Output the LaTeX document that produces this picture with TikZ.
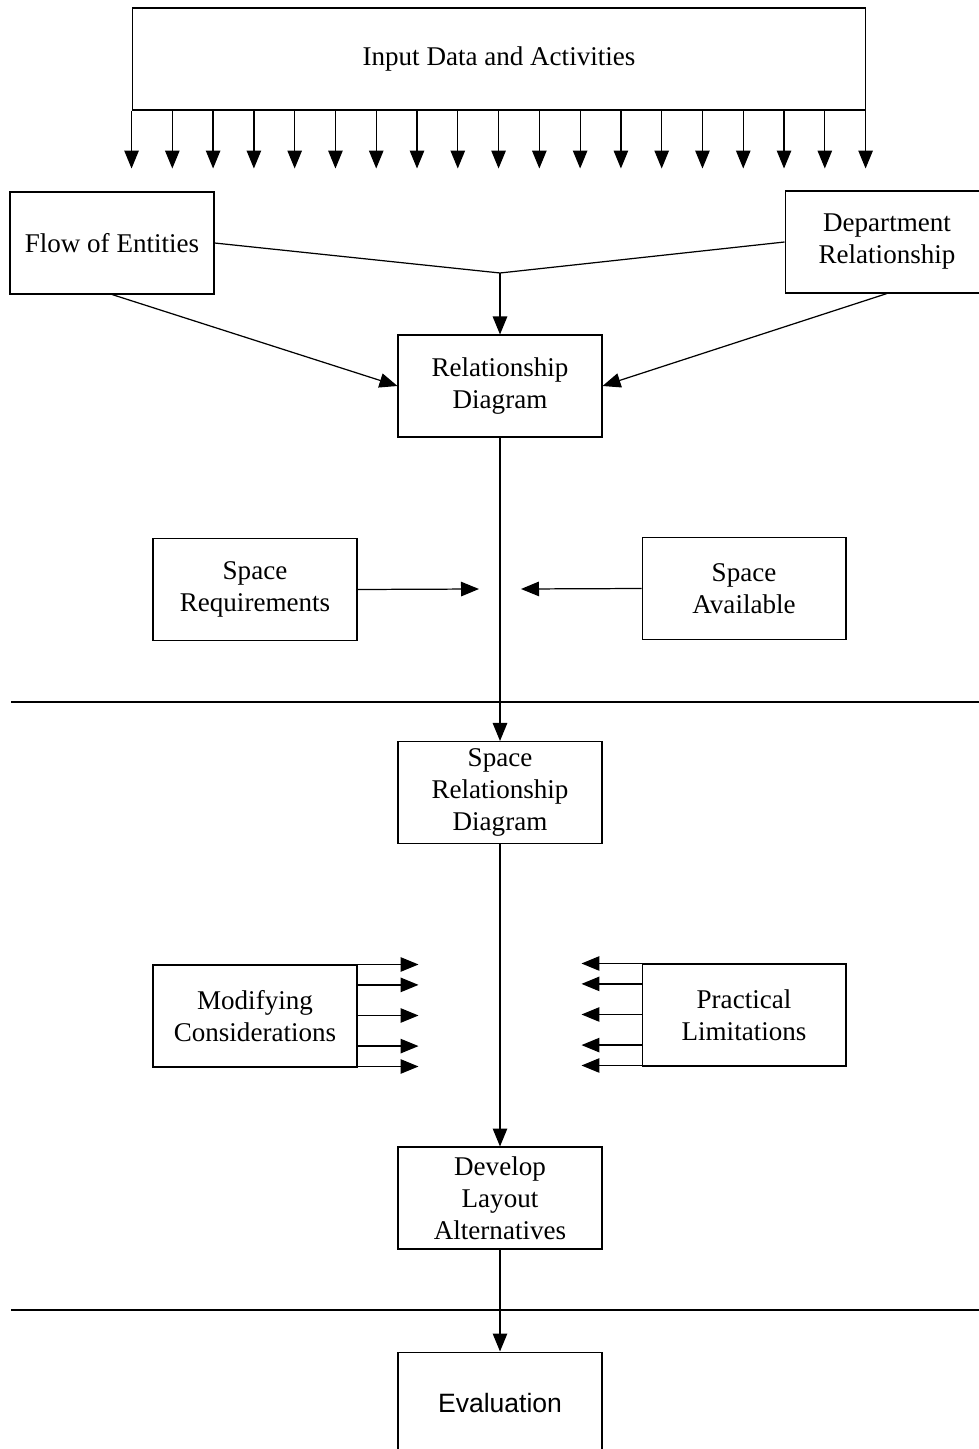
\documentclass[tikz,border=0pt]{standalone}
\usepackage{fontspec}
\setmainfont{Liberation Serif}
\newfontfamily\evalfont{Liberation Sans}
\usetikzlibrary{arrows.meta}

\tikzset{
	block/.style={draw, line width=0.6pt, minimum width=4.08cm, minimum height=2.04cm, inner sep=0pt, align=center, font=\fontsize{15.4}{18.2}\selectfont},
	arr/.style={line width=0.7pt, -{Triangle[length=0.36cm,width=0.29cm]}},
	link/.style={line width=0.7pt},
}

\begin{document}
\begin{tikzpicture}[x=0.02cm, y=-0.02cm]
	
	\useasboundingbox (0,0) rectangle (979,1449);
	
	\node[block, minimum width=14.68cm] (input) at (499,59) {Input Data and Activities};
	\foreach \i in {0,...,18}
		\draw[arr] (input.south west) ++(\i*40.78,0) -- ++(0,58);
	
	\node[block] (flow) at (112,243) {Flow of Entities};
	\node[block] (dept) at (887,242) {Department\\Relationship};
	\node[block] (reldiag) at (500,386) {Relationship\\Diagram};
	
	\coordinate (join) at (500,273);
	\draw[link] (flow.east) -- (join) -- (dept.west);
	\draw[arr] (join) -- (reldiag.north);
	\draw[arr] (flow.south) -- (reldiag.west);
	\draw[arr] (dept.south) -- (reldiag.east);
	
	\node[block] (spacereq) at (255,589.5) {Space\\Requirements};
	\node[block] (spaceav) at (744,588.5) {Space\\Available};
	\coordinate (reqtip) at (479,589);
	\coordinate (avtip) at (521,589);
	\draw[arr] (spacereq.east) -- (reqtip);
	\draw[arr] (spaceav.west) -- (avtip);
	
	\node[block] (spacerel) at (500,792.5) {Space\\Relationship\\Diagram};
	\draw[arr] (reldiag.south) -- (spacerel.north);
	
	\coordinate (sepAl) at (11,702);
	\coordinate (sepAr) at (979,702);
	\draw[link] (sepAl) -- (sepAr);
	
	\node[block] (modif) at (255,1016) {Modifying\\Considerations};
	\node[block] (pract) at (744,1015) {Practical\\Limitations};
	\foreach \f in {0,0.2,0.5,0.8,1}{
		\draw[arr] (modif.north east) ++(0,\f*102) -- ++(61,0);
		\draw[arr] (pract.north west) ++(0,\f*102) -- ++(-60,0);
	}
	
	\node[block] (develop) at (500,1198) {Develop\\Layout\\Alternatives};
	\draw[arr] (spacerel.south) -- (develop.north);
	
	\coordinate (sepBl) at (11,1310);
	\coordinate (sepBr) at (979,1310);
	\draw[link] (sepBl) -- (sepBr);
	
	\node[block, font=\evalfont\fontsize{15.1}{18}\selectfont] (eval) at (500,1403) {Evaluation};
	\draw[arr] (develop.south) -- (eval.north);
	
\end{tikzpicture}
\end{document}
